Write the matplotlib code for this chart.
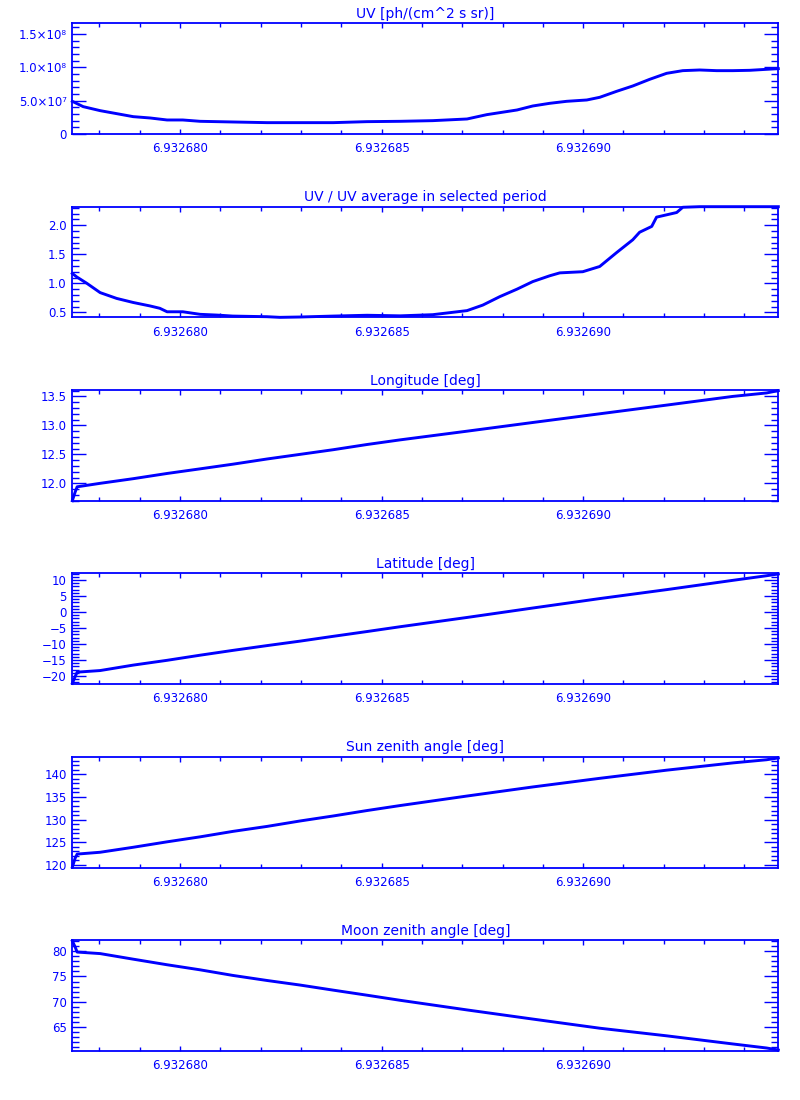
import matplotlib
matplotlib.use('Agg')
import matplotlib.pyplot as plt
from matplotlib.ticker import MultipleLocator, FixedLocator, FixedFormatter

BLUE = '#0000ff'

# ---------------- data ----------------
x_ticks = [6.932680, 6.932685, 6.932690]
x_tick_labels = ['6.932680', '6.932685', '6.932690']
x_range = [6.93267733, 6.93269484]

titles = ['UV [ph/(cm^2 s sr)]',
          'UV / UV average in selected period',
          'Longitude [deg]',
          'Latitude [deg]',
          'Sun zenith angle [deg]',
          'Moon zenith angle [deg]']

# UV
uv_t = [6.93267733, 6.93267760, 6.93267802, 6.93267843, 6.93267884, 6.93267926,
        6.93267968, 6.93268007, 6.93268050, 6.93268131, 6.93268216, 6.93268298,
        6.93268380, 6.93268464, 6.93268546, 6.93268627, 6.93268712, 6.93268761,
        6.93268836, 6.93268875, 6.93268917, 6.93268959, 6.93269009, 6.93269041,
        6.93269083, 6.93269123, 6.93269165, 6.93269207, 6.93269247, 6.93269289,
        6.93269331, 6.93269371, 6.93269413, 6.93269455, 6.93269484]
uv_v = [4.9e7, 4.1e7, 3.5e7, 3.05e7, 2.6e7, 2.4e7,
        2.1e7, 2.1e7, 1.9e7, 1.8e7, 1.7e7, 1.7e7,
        1.7e7, 1.85e7, 1.9e7, 2.0e7, 2.25e7, 2.9e7,
        3.6e7, 4.2e7, 4.6e7, 4.9e7, 5.1e7, 5.5e7,
        6.4e7, 7.2e7, 8.2e7, 9.1e7, 9.5e7, 9.6e7,
        9.5e7, 9.5e7, 9.55e7, 9.7e7, 9.8e7]

# UV / average
ratio_t = [6.93267733, 6.93267744, 6.93267769, 6.93267802, 6.93267843, 6.93267884,
           6.93267926, 6.93267950, 6.93267968, 6.93268007, 6.93268050, 6.93268092,
           6.93268131, 6.93268216, 6.93268248, 6.93268298, 6.93268380, 6.93268464,
           6.93268546, 6.93268627, 6.93268712, 6.93268751, 6.93268793, 6.93268836,
           6.93268875, 6.93268917, 6.93268942, 6.93268999, 6.93269041, 6.93269083,
           6.93269123, 6.93269140, 6.93269170, 6.93269182, 6.93269232, 6.93269247,
           6.93269289, 6.93269484]
ratio_v = [1.17, 1.11, 1.00, 0.84, 0.74, 0.67,
           0.61, 0.57, 0.51, 0.51, 0.466, 0.453,
           0.436, 0.425, 0.414, 0.42, 0.436, 0.45,
           0.44, 0.46, 0.53, 0.625, 0.77, 0.90,
           1.03, 1.13, 1.18, 1.20, 1.29, 1.53,
           1.75, 1.88, 1.98, 2.14, 2.22, 2.31,
           2.32, 2.32]

# common time grid for the geometry panels
geo_t = [6.93267733, 6.93267740, 6.93267745, 6.93267802, 6.93267884, 6.93267968,
         6.93268050, 6.93268131, 6.93268216, 6.93268298, 6.93268380, 6.93268464,
         6.93268546, 6.93268712, 6.93268875, 6.93269041, 6.93269207, 6.93269371,
         6.93269455, 6.93269484]
lon_v = [11.70, 11.85, 11.94, 12.00, 12.08, 12.17,
         12.25, 12.33, 12.42, 12.50, 12.58, 12.67,
         12.75, 12.90, 13.05, 13.20, 13.35, 13.50,
         13.56, 13.60]
lat_v = [-22.3, -20.2, -18.8, -18.3, -16.6, -15.1,
         -13.5, -12.0, -10.5, -9.1, -7.6, -6.1,
         -4.6, -1.7, 1.25, 4.2, 7.0, 9.9,
         11.35, 11.9]
sun_v = [119.5, 121.5, 122.4, 122.8, 123.9, 125.1,
         126.2, 127.4, 128.5, 129.7, 130.8, 132.0,
         133.1, 135.2, 137.2, 139.1, 140.9, 142.5,
         143.2, 143.6]
moon_v = [82.0, 80.8, 79.8, 79.5, 78.4, 77.3,
          76.3, 75.2, 74.2, 73.3, 72.3, 71.3,
          70.3, 68.4, 66.6, 64.8, 63.3, 61.7,
          60.9, 60.5]

y_ranges = [[0.0, 1.66e8], [0.414, 2.32], [11.694, 13.604],
            [-22.5, 12.1], [119.4, 143.8], [60.3, 82.1]]
y_ticks = [[0.0, 5.0e7, 1.0e8, 1.5e8],
           [0.5, 1.0, 1.5, 2.0],
           [12.0, 12.5, 13.0, 13.5],
           [-20, -15, -10, -5, 0, 5, 10],
           [120, 125, 130, 135, 140],
           [65, 70, 75, 80]]
y_tick_labels = [['0', '5.0×10⁷', '1.0×10⁸', '1.5×10⁸'],
                 ['0.5', '1.0', '1.5', '2.0'],
                 ['12.0', '12.5', '13.0', '13.5'],
                 ['−20', '−15', '−10', '−5', '0', '5', '10'],
                 ['120', '125', '130', '135', '140'],
                 ['65', '70', '75', '80']]
y_minor = [1.0e7, 0.1, 0.1, 1.0, 1.0, 1.0]

series = [(uv_t, uv_v), (ratio_t, ratio_v), (geo_t, lon_v),
          (geo_t, lat_v), (geo_t, sun_v), (geo_t, moon_v)]

# ---------------- layout ----------------
fig = plt.figure(figsize=(8, 11), dpi=100)
bottoms = [0.8782, 0.7115, 0.5445, 0.3782, 0.2112, 0.0445]
left, width, height = 0.0904, 0.8825, 0.1006

for i in range(6):
    ax = fig.add_axes([left, bottoms[i], width, height])
    t, v = series[i]
    ax.plot(t, v, color=BLUE, lw=2.1, clip_on=False)
    ax.set_xlim(x_range)
    ax.set_ylim(y_ranges[i])
    ax.xaxis.set_major_locator(FixedLocator(x_ticks))
    ax.xaxis.set_major_formatter(FixedFormatter(x_tick_labels))
    ax.xaxis.set_minor_locator(MultipleLocator(1e-6))
    ax.yaxis.set_major_locator(FixedLocator(y_ticks[i]))
    ax.yaxis.set_major_formatter(FixedFormatter(y_tick_labels[i]))
    ax.yaxis.set_minor_locator(MultipleLocator(y_minor[i]))
    ax.tick_params(axis='both', which='both', direction='in', colors=BLUE,
                   top=True, right=True, width=1.0, labelsize=8.5)
    ax.tick_params(axis='x', which='major', length=3.3, pad=6)
    ax.tick_params(axis='x', which='minor', length=3.0)
    ax.tick_params(axis='y', which='major', length=10, pad=4)
    ax.tick_params(axis='y', which='minor', length=5.2)
    for s in ax.spines.values():
        s.set_color(BLUE)
        s.set_linewidth(1.3)
    ax.set_title(titles[i], color=BLUE, fontsize=10, pad=4)

fig.savefig('out.png', dpi=100, facecolor='white')
